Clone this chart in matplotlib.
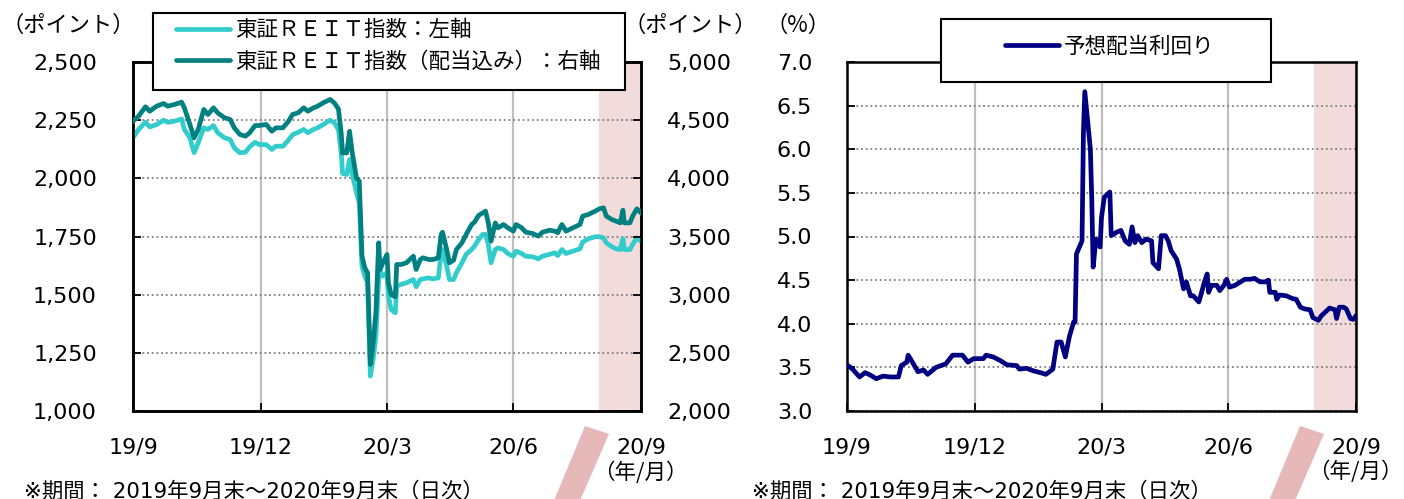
import matplotlib
matplotlib.use('Agg')
import matplotlib.pyplot as plt
from matplotlib.patches import Rectangle, Polygon
from matplotlib.lines import Line2D
from matplotlib.ticker import FuncFormatter
import pandas as pd

plt.rcParams['font.family'] = ['DejaVu Sans', 'Noto Sans CJK JP']

# ---------------- data ----------------
reit_dates = [
    "2019-09-30", "2019-10-04", "2019-10-09", "2019-10-12", "2019-10-17", "2019-10-22",
    "2019-10-25", "2019-10-30", "2019-11-04", "2019-11-06", "2019-11-10", "2019-11-13",
    "2019-11-16", "2019-11-20", "2019-11-23", "2019-11-27", "2019-11-30", "2019-12-05",
    "2019-12-09", "2019-12-12", "2019-12-16", "2019-12-20", "2019-12-23", "2019-12-27",
    "2019-12-30", "2020-01-04", "2020-01-08", "2020-01-11", "2020-01-16", "2020-01-20",
    "2020-01-23", "2020-01-27", "2020-01-31", "2020-02-03", "2020-02-07", "2020-02-10",
    "2020-02-14", "2020-02-19", "2020-02-22", "2020-02-25", "2020-02-27", "2020-02-28",
    "2020-03-02", "2020-03-04", "2020-03-06", "2020-03-09", "2020-03-11", "2020-03-13",
    "2020-03-15", "2020-03-17", "2020-03-19", "2020-03-21", "2020-03-23", "2020-03-25",
    "2020-03-26", "2020-03-28", "2020-03-31", "2020-04-01", "2020-04-03", "2020-04-06",
    "2020-04-07", "2020-04-10", "2020-04-14", "2020-04-19", "2020-04-21", "2020-04-24",
    "2020-04-26", "2020-04-30", "2020-05-03", "2020-05-07", "2020-05-09", "2020-05-10",
    "2020-05-13", "2020-05-15", "2020-05-18", "2020-05-20", "2020-05-24", "2020-05-27",
    "2020-05-31", "2020-06-02", "2020-06-05", "2020-06-08", "2020-06-10", "2020-06-12",
    "2020-06-14", "2020-06-17", "2020-06-19", "2020-06-23", "2020-06-26", "2020-06-30",
    "2020-07-02", "2020-07-06", "2020-07-09", "2020-07-14", "2020-07-18", "2020-07-21",
    "2020-07-26", "2020-07-30", "2020-08-01", "2020-08-04", "2020-08-07", "2020-08-12",
    "2020-08-17", "2020-08-19", "2020-08-23", "2020-08-28", "2020-08-31", "2020-09-03",
    "2020-09-05", "2020-09-09", "2020-09-12", "2020-09-15", "2020-09-17", "2020-09-18",
    "2020-09-22", "2020-09-24", "2020-09-27", "2020-09-30",
]
reit_index = [
    2174, 2210, 2241, 2221, 2231, 2250, 2241, 2246, 2255, 2210, 2174, 2110,
    2153, 2217, 2210, 2227, 2196, 2174, 2167, 2131, 2110, 2112, 2135, 2155,
    2145, 2145, 2124, 2138, 2138, 2164, 2188, 2198, 2210, 2196, 2210, 2217,
    2231, 2250, 2239, 2210, 2110, 2021, 2016, 2081, 2016, 1938, 1895, 1622,
    1580, 1551, 1150, 1222, 1322, 1565, 1601, 1580, 1594, 1494, 1436, 1422,
    1537, 1544, 1551, 1565, 1534, 1565, 1568, 1572, 1568, 1572, 1680, 1694,
    1622, 1565, 1565, 1594, 1637, 1673, 1694, 1708, 1737, 1759, 1759, 1716,
    1637, 1694, 1701, 1694, 1677, 1665, 1687, 1677, 1665, 1663, 1654, 1665,
    1673, 1680, 1668, 1694, 1677, 1687, 1697, 1726, 1740, 1749, 1749, 1744,
    1723, 1706, 1697, 1694, 1740, 1694, 1694, 1716, 1744, 1730,
]
reit_total_return = [
    4491, 4534, 4615, 4577, 4620, 4643, 4620, 4635, 4655, 4606, 4463, 4348,
    4420, 4592, 4549, 4606, 4563, 4520, 4506, 4434, 4377, 4362, 4391, 4454,
    4454, 4463, 4405, 4434, 4434, 4491, 4549, 4563, 4606, 4577, 4606, 4620,
    4649, 4678, 4649, 4597, 4391, 4219, 4219, 4405, 4219, 4004, 3976, 3331,
    3231, 3188, 2400, 2586, 2844, 3446, 3216, 3274, 3345, 3102, 3001, 2981,
    3259, 3259, 3274, 3331, 3216, 3302, 3317, 3302, 3302, 3317, 3517, 3537,
    3388, 3274, 3297, 3388, 3446, 3517, 3603, 3623, 3681, 3703, 3718, 3617,
    3460, 3617, 3575, 3603, 3575, 3546, 3603, 3575, 3537, 3526, 3503, 3537,
    3554, 3546, 3532, 3603, 3546, 3575, 3603, 3675, 3689, 3718, 3738, 3746,
    3675, 3646, 3632, 3617, 3726, 3617, 3617, 3675, 3738, 3703,
]

yield_dates = [
    "2019-09-30", "2019-10-04", "2019-10-09", "2019-10-13", "2019-10-17", "2019-10-21",
    "2019-10-26", "2019-10-31", "2019-11-06", "2019-11-08", "2019-11-12", "2019-11-13",
    "2019-11-16", "2019-11-20", "2019-11-24", "2019-11-27", "2019-12-03", "2019-12-10",
    "2019-12-15", "2019-12-22", "2019-12-26", "2019-12-30", "2020-01-06", "2020-01-08",
    "2020-01-13", "2020-01-18", "2020-01-23", "2020-01-30", "2020-02-01", "2020-02-06",
    "2020-02-11", "2020-02-16", "2020-02-20", "2020-02-25", "2020-02-28", "2020-03-02",
    "2020-03-05", "2020-03-08", "2020-03-11", "2020-03-12", "2020-03-13", "2020-03-17",
    "2020-03-18", "2020-03-19", "2020-03-23", "2020-03-24", "2020-03-25", "2020-03-27",
    "2020-03-30", "2020-03-31", "2020-04-02", "2020-04-06", "2020-04-07", "2020-04-11",
    "2020-04-14", "2020-04-17", "2020-04-20", "2020-04-22", "2020-04-24", "2020-04-26",
    "2020-04-29", "2020-05-02", "2020-05-06", "2020-05-07", "2020-05-11", "2020-05-13",
    "2020-05-16", "2020-05-18", "2020-05-20", "2020-05-24", "2020-05-26", "2020-05-29",
    "2020-05-31", "2020-06-03", "2020-06-05", "2020-06-09", "2020-06-11", "2020-06-13",
    "2020-06-15", "2020-06-16", "2020-06-18", "2020-06-22", "2020-06-24", "2020-06-27",
    "2020-06-29", "2020-07-01", "2020-07-05", "2020-07-09", "2020-07-12", "2020-07-16",
    "2020-07-19", "2020-07-23", "2020-07-27", "2020-07-29", "2020-07-30", "2020-08-03",
    "2020-08-04", "2020-08-06", "2020-08-11", "2020-08-15", "2020-08-18", "2020-08-21",
    "2020-08-24", "2020-08-28", "2020-08-30", "2020-09-03", "2020-09-05", "2020-09-09",
    "2020-09-11", "2020-09-15", "2020-09-16", "2020-09-18", "2020-09-21", "2020-09-23",
    "2020-09-26", "2020-09-28", "2020-09-30",
]
dividend_yield = [
    3.53, 3.48, 3.39, 3.44, 3.41, 3.37, 3.40, 3.39, 3.39, 3.52, 3.56, 3.64,
    3.56, 3.45, 3.47, 3.42, 3.50, 3.54, 3.64, 3.64, 3.56, 3.60, 3.60, 3.64,
    3.62, 3.58, 3.53, 3.52, 3.48, 3.49, 3.46, 3.44, 3.42, 3.48, 3.79, 3.79,
    3.62, 3.86, 4.02, 4.02, 4.80, 4.95, 6.19, 6.66, 6.00, 5.43, 4.65, 4.97,
    4.88, 5.22, 5.45, 5.51, 5.01, 5.05, 5.07, 4.95, 4.91, 5.11, 4.93, 5.01,
    4.93, 4.97, 4.95, 4.70, 4.63, 5.01, 5.01, 4.95, 4.84, 4.74, 4.63, 4.40,
    4.48, 4.32, 4.32, 4.25, 4.36, 4.48, 4.57, 4.36, 4.44, 4.44, 4.38, 4.44,
    4.51, 4.42, 4.44, 4.48, 4.51, 4.51, 4.52, 4.48, 4.48, 4.50, 4.36, 4.36,
    4.28, 4.33, 4.32, 4.29, 4.28, 4.19, 4.17, 4.16, 4.07, 4.04, 4.09, 4.15,
    4.18, 4.16, 4.06, 4.19, 4.19, 4.17, 4.06, 4.05, 4.09,
]

quarter_ticks = ["2019-09-30", "2019-12-31", "2020-03-31", "2020-06-30", "2020-09-30"]
quarter_labels = ["19/9", "19/12", "20/3", "20/6", "20/9"]
left_yticks = [1000, 1250, 1500, 1750, 2000, 2250, 2500]
right_yticks = [2000, 2500, 3000, 3500, 4000, 4500, 5000]
yield_yticks = [3.0, 3.5, 4.0, 4.5, 5.0, 5.5, 6.0, 6.5, 7.0]
shade_span = ["2020-08-31", "2020-09-30"]

label_reit = "東証ＲＥＩＴ指数：左軸"
label_reit_tr = "東証ＲＥＩＴ指数（配当込み）：右軸"
label_yield = "予想配当利回り"
note_text = "※期間： 2019年9月末～2020年9月末（日次）"

c_light = "#33CCCC"
c_dark = "#008080"
c_navy = "#000080"
c_shade = "#F2DCDB"
c_band = "#E6B9B8"

# ---------------- figure ----------------
W, H = 1404, 499
fig = plt.figure(figsize=(W / 100, H / 100), dpi=100)


def fx(px):
    return px / W


def fy(py):
    return 1 - py / H


FS = 16
FSJ = 15.5
FSU = 16
JP = ['Noto Sans CJK JP', 'DejaVu Sans']

ax1 = fig.add_axes([fx(133), fy(411), (641 - 133) / W, (411 - 62) / H])
ax1r = ax1.twinx()
ax2 = fig.add_axes([fx(847), fy(411), (1356 - 847) / W, (411 - 62) / H])

xt = pd.to_datetime(quarter_ticks)
xlim = (pd.Timestamp(quarter_ticks[0]), pd.Timestamp(quarter_ticks[-1]))


def base_style(ax):
    ax.set_xlim(*xlim)
    ax.set_xticks(xt)
    ax.set_xticklabels(quarter_labels)
    ax.set_axisbelow(True)
    ax.grid(axis='x', color='#BFBFBF', lw=1.6, ls='-')
    ax.grid(axis='y', color='#808080', lw=1.3, ls=(0, (1, 1.6)))
    ax.axvspan(pd.Timestamp(shade_span[0]), pd.Timestamp(shade_span[1]),
               color=c_shade, lw=0, zorder=0)
    for s in ax.spines.values():
        s.set_linewidth(1.8)
        s.set_color('black')
    ax.tick_params(axis='x', direction='in', length=6, width=1.3,
                   labelsize=FS, pad=19)
    ax.tick_params(axis='y', direction='in', length=6, width=1.3,
                   labelsize=FS)


# left panel
base_style(ax1)
ax1.set_ylim(left_yticks[0], left_yticks[-1])
ax1.set_yticks(left_yticks)
ax1.yaxis.set_major_formatter(FuncFormatter(lambda v, p: f"{v:,.0f}"))
ax1.tick_params(axis='y', pad=26)
ax1.plot(pd.to_datetime(reit_dates), reit_index, color=c_light, lw=3.4,
         solid_joinstyle='round', zorder=3)

ax1r.set_ylim(right_yticks[0], right_yticks[-1])
ax1r.set_yticks(right_yticks)
ax1r.yaxis.set_major_formatter(FuncFormatter(lambda v, p: f"{v:,.0f}"))
ax1r.tick_params(axis='y', direction='in', length=6, width=1.3,
                 labelsize=FS, pad=19)
for s in ax1r.spines.values():
    s.set_linewidth(1.8)
ax1r.plot(pd.to_datetime(reit_dates), reit_total_return, color=c_dark, lw=3.4,
          solid_joinstyle='round', zorder=3)

# right panel
base_style(ax2)
ax2.set_ylim(yield_yticks[0], yield_yticks[-1])
ax2.set_yticks(yield_yticks)
ax2.yaxis.set_major_formatter(FuncFormatter(lambda v, p: f"{v:.1f}"))
ax2.tick_params(axis='y', pad=25)
ax2.plot(pd.to_datetime(yield_dates), dividend_yield, color=c_navy, lw=3.4,
         solid_joinstyle='round', zorder=3)

# legend frames and legends
fig.add_artist(Rectangle((fx(153), fy(90)), (625 - 153) / W, (90 - 13) / H,
                         transform=fig.transFigure, facecolor='white',
                         edgecolor='black', lw=1.5, zorder=4))
fig.add_artist(Rectangle((fx(941), fy(82)), (1271 - 941) / W, (82 - 19) / H,
                         transform=fig.transFigure, facecolor='white',
                         edgecolor='black', lw=1.5, zorder=4))

h1 = [Line2D([], [], color=c_light, lw=3.4, solid_capstyle='round'),
      Line2D([], [], color=c_dark, lw=3.4, solid_capstyle='round')]
leg1 = fig.legend(h1, [label_reit, label_reit_tr], loc='upper left',
                  bbox_to_anchor=(fx(176), fy(20)), frameon=False,
                  borderpad=0, borderaxespad=0, handlelength=2.5,
                  handletextpad=0.25, labelspacing=0.5, fontsize=FSJ)
leg1.set_zorder(6)
h2 = [Line2D([], [], color=c_navy, lw=3.4, solid_capstyle='round')]
leg2 = fig.legend(h2, [label_yield], loc='upper left',
                  bbox_to_anchor=(fx(1005), fy(36)), frameon=False,
                  borderpad=0, borderaxespad=0, handlelength=2.5,
                  handletextpad=0.25, fontsize=FSJ)
leg2.set_zorder(6)

# unit labels
fig.text(fx(68), fy(25), "（ポイント）", ha='center', va='center',
         fontsize=FSU, family=JP)
fig.text(fx(690), fy(25), "（ポイント）", ha='center', va='center',
         fontsize=FSU, family=JP)
fig.text(fx(798), fy(25), "（%）", ha='center', va='center',
         fontsize=FSU, family=JP)
fig.text(fx(640), fy(473), "（年/月）", ha='center', va='center',
         fontsize=15.5, family=JP)
fig.text(fx(1403), fy(472), "（年/月）", ha='right', va='center',
         fontsize=15.5, family=JP)

# footnotes (cut by the bottom edge, as in the original)
fig.text(fx(24), fy(492), note_text, ha='left', va='center', fontsize=15.4)
fig.text(fx(752), fy(492), note_text, ha='left', va='center', fontsize=15.4)

# decorative pink bands
for dx in (0, 715):
    pts = [(585 + dx, 426), (609 + dx, 434), (579 + dx, 503), (553 + dx, 503)]
    fig.add_artist(Polygon([(fx(a), fy(b)) for a, b in pts], closed=True,
                           transform=fig.transFigure, facecolor=c_band,
                           edgecolor='none', zorder=2))

fig.savefig('out.png', dpi=100)
